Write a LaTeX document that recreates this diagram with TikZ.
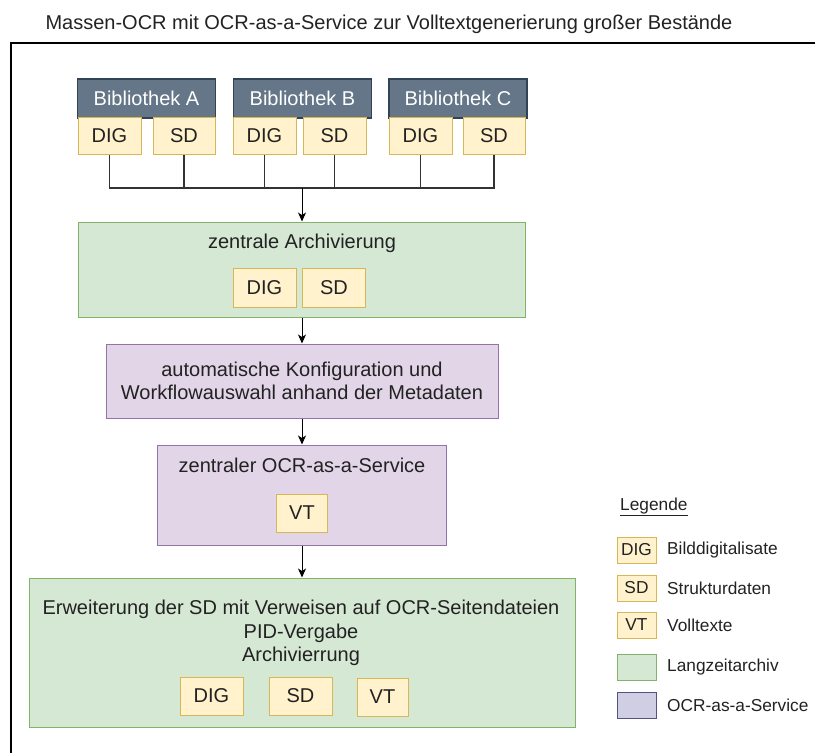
\documentclass[tikz,border=0pt]{standalone}
\usepackage{fontspec}
\setmainfont{Liberation Sans}
\usepackage{xcolor}
\usetikzlibrary{arrows.meta,positioning}
\definecolor{LibFill}{HTML}{647687}
\definecolor{LibLine}{HTML}{314354}
\definecolor{DataFill}{HTML}{FFF2CC}
\definecolor{DataLine}{HTML}{D6B656}
\definecolor{ArchFill}{HTML}{D5E8D4}
\definecolor{ArchLine}{HTML}{82B366}
\definecolor{OcrFill}{HTML}{E1D5E7}
\definecolor{OcrLine}{HTML}{9673A6}
\definecolor{KeyFill}{HTML}{D0CEE2}
\definecolor{KeyLine}{HTML}{56517E}
\definecolor{TextGray}{HTML}{222222}
\tikzset{
  lib box/.style={draw=LibLine, fill=LibFill, line width=1.5pt, text=white, minimum width=138pt, minimum height=39pt, inner sep=0pt, font=\fontsize{20}{23}\selectfont},
  data box/.style={draw=DataLine, fill=DataFill, line width=1pt, text=TextGray, minimum width=63pt, minimum height=37pt, inner sep=0pt, font=\fontsize{20}{23}\selectfont},
  key box/.style={draw=DataLine, fill=DataFill, line width=1pt, text=TextGray, minimum width=39pt, minimum height=26pt, inner sep=0pt, font=\fontsize{17.3}{20}\selectfont},
  arch box/.style={draw=ArchLine, fill=ArchFill, line width=1pt, inner sep=0pt},
  ocr box/.style={draw=OcrLine, fill=OcrFill, line width=1pt, inner sep=0pt},
  txt/.style={text=TextGray, inner sep=0pt, font=\fontsize{20}{23.5}\selectfont, align=center},
  key txt/.style={text=TextGray, inner sep=0pt, anchor=west, font=\fontsize{17.3}{20}\selectfont},
  flow/.style={-{Stealth[length=9pt, width=8pt, inset=2.5pt]}, line width=1pt, draw=black},
  bus/.style={line width=1.2pt, draw=black!80}
}

\begin{document}
\begin{tikzpicture}[x=1pt, y=-1pt]
\useasboundingbox (0,0) rectangle (815,753);

\node[txt] (title) at (389,24) {Massen-OCR mit OCR-as-a-Service zur Volltextgenerierung großer Bestände};
\draw[line width=1.5pt] (11,760) -- (11,43) -- (820,43);

\node[lib box] (libA) at (146.5,98.5) {Bibliothek A};
\node[lib box] (libB) at (302.5,98.5) {Bibliothek B};
\node[lib box] (libC) at (458,98.5) {Bibliothek C};

\node[data box] (aDig) at (109.5,136) {DIG};
\node[data box, minimum width=62pt] (aSd) at (184,136) {SD};
\node[data box] (bDig) at (264.5,136) {DIG};
\node[data box] (bSd) at (334.5,136) {SD};
\node[data box] (cDig) at (420.5,136) {DIG};
\node[data box, minimum width=62pt] (cSd) at (494,136) {SD};

\coordinate (join) at (302,188);
\draw[bus] (aDig.south) |- (join);
\draw[bus] (aSd.south) |- (join);
\draw[bus] (bDig.south) |- (join);
\draw[bus] (bSd.south) |- (join);
\draw[bus] (cDig.south) |- (join);
\draw[bus] (cSd.south) |- (join);

\node[arch box, minimum width=447pt, minimum height=95pt] (archiv) at (302,269.5) {};
\node[txt] (archivLabel) at (302,243) {zentrale Archivierung};
\node[data box, minimum height=39pt] (archDig) at (264.5,287.5) {DIG};
\node[data box, minimum height=39pt] (archSd) at (334,287.5) {SD};

\node[ocr box, minimum width=392pt, minimum height=74pt, txt] (konfig) at (302,381) {automatische Konfiguration und\\Workflowauswahl anhand der Metadaten};

\node[ocr box, minimum width=289pt, minimum height=100pt] (service) at (302,495) {};
\node[txt] (serviceLabel) at (302,465) {zentraler OCR-as-a-Service};
\node[data box, minimum width=51pt, minimum height=38pt] (serviceVt) at (302,513) {VT};

\node[arch box, minimum width=546pt, minimum height=149pt] (lza) at (302,652.5) {};
\node[txt] (lzaLabel) at (301,633) {Erweiterung der SD mit Verweisen auf OCR-Seitendateien\\PID-Vergabe\\Archivierrung};
\node[data box, minimum height=38pt] (lzaDig) at (211.5,696) {DIG};
\node[data box, minimum height=38pt] (lzaSd) at (300.5,696) {SD};
\node[data box, minimum width=51pt, minimum height=38pt] (lzaVt) at (382.5,697) {VT};

\draw[flow] (join) -- (archiv.north);
\draw[flow] (archiv.south) -- (konfig.north);
\draw[flow] (konfig.south) -- (service.north);
\draw[flow] (service.south) -- (lza.north);

\node[key txt] (legTitle) at (620,507) {\underline{Legende}};
\node[key box] (keyDig) at (636.5,550) {DIG};
\node[key txt] (keyDigText) at (667,550) {Bilddigitalisate};
\node[key box] (keySd) at (636.5,588) {SD};
\node[key txt] (keySdText) at (667,588) {Strukturdaten};
\node[key box] (keyVt) at (636.5,625) {VT};
\node[key txt] (keyVtText) at (667,625) {Volltexte};
\node[key box, draw=ArchLine, fill=ArchFill] (keyArch) at (636.5,667) {};
\node[key txt] (keyArchText) at (667,667) {Langzeitarchiv};
\node[key box, draw=KeyLine, fill=KeyFill] (keyOcr) at (636.5,705) {};
\node[key txt] (keyOcrText) at (667,705) {OCR-as-a-Service};
\end{tikzpicture}
\end{document}
